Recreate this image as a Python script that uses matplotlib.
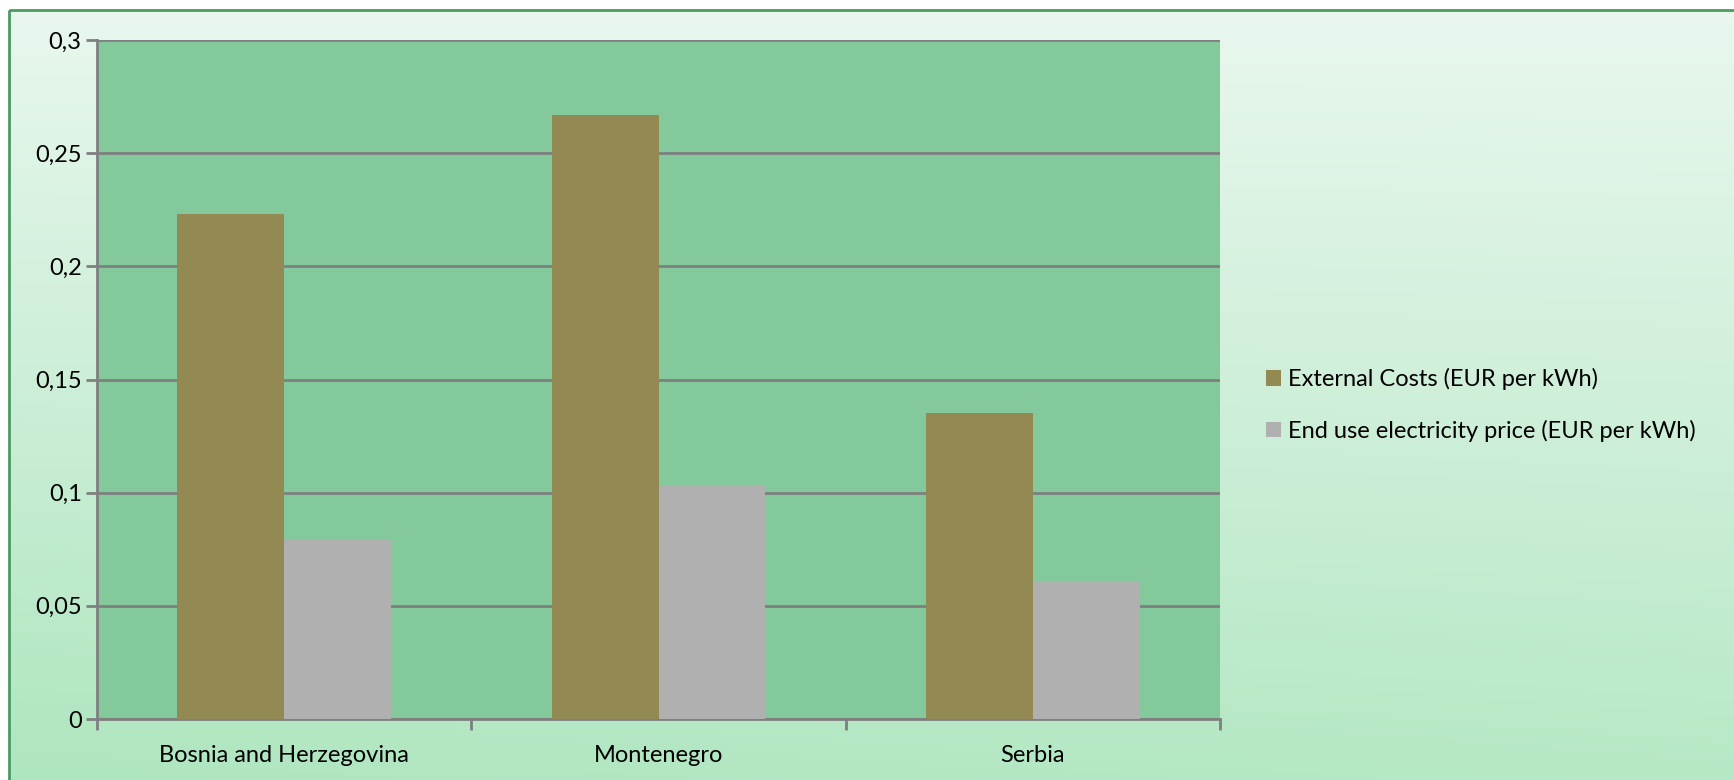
import numpy as np
import matplotlib
matplotlib.use("Agg")
import matplotlib.pyplot as plt
from matplotlib.patches import Rectangle
from matplotlib.ticker import FixedLocator, FuncFormatter

plt.rcParams['font.family'] = ['Lato', 'DejaVu Sans']

countries = ['Bosnia and Herzegovina', 'Montenegro', 'Serbia']
external_costs = [0.223, 0.267, 0.135]
end_use_price = [0.079, 0.103, 0.061]
series_names = ['External Costs (EUR per kWh)', 'End use electricity price (EUR per kWh)']
yticks = [0, 0.05, 0.1, 0.15, 0.2, 0.25, 0.3]

W, H = 1734, 780
fig = plt.figure(figsize=(W / 100, H / 100), dpi=100)
fig.patch.set_facecolor('white')

# gradient background with green border
bg = fig.add_axes([0, 0, 1, 1], zorder=0)
bg.set_xlim(0, W)
bg.set_ylim(H, 0)
bg.axis('off')
yy, xx = np.mgrid[0:1:200j, 0:1:200j]
t = np.clip(0.85 * yy + 0.15 * (1 - xx) * yy, 0, 1)
c0 = np.array([0xe9, 0xf7, 0xee]) / 255
c1 = np.array([0xae, 0xe6, 0xbf]) / 255
img = c0[None, None, :] * (1 - t[..., None]) + c1[None, None, :] * t[..., None]
bg.imshow(img, extent=[9, W, H, 10], aspect='auto', zorder=0)
bg.add_patch(Rectangle((9, 10), W, H, fill=False, edgecolor='#4a9a62', lw=2, zorder=1))

ax = fig.add_axes([97 / W, 1 - 719 / H, (1220 - 97) / W, (719 - 40) / H], zorder=2)
ax.set_facecolor('#83c99b')

x = np.arange(len(countries))
bw = 1 / 3.5
ax.bar(x - bw / 2, external_costs, bw, color='#938953', label=series_names[0], zorder=3)
ax.bar(x + bw / 2, end_use_price, bw, color='#b0b0b0', label=series_names[1], zorder=3)

ax.set_xlim(-0.5, 2.5)
ax.set_ylim(0, 0.3)
ax.yaxis.set_major_locator(FixedLocator(yticks))
ax.yaxis.set_major_formatter(FuncFormatter(lambda v, p: ('%g' % v).replace('.', ',')))
ax.grid(axis='y', color='#7f7f7f', lw=2, zorder=1)
ax.set_axisbelow(True)

ax.set_xticks(x)
ax.set_xticklabels(countries)
ax.set_xticks([-0.5, 0.5, 1.5, 2.5], minor=True)
ax.tick_params(axis='x', which='major', length=0, labelsize=17, pad=19)
ax.tick_params(axis='x', which='minor', length=8, width=2, color='#7f7f7f', direction='out')
ax.tick_params(axis='y', length=8, width=2, color='#7f7f7f', labelsize=17, pad=3)

for s in ['top', 'right']:
    ax.spines[s].set_visible(False)
for s in ['left', 'bottom']:
    ax.spines[s].set_color('#7f7f7f')
    ax.spines[s].set_linewidth(2)

fig.legend(loc='center left', bbox_to_anchor=(1266 / W, 1 - 405 / H), frameon=False,
           fontsize=17, handlelength=0.65, handleheight=0.65, handletextpad=0.3,
           labelspacing=1.25, borderpad=0, borderaxespad=0)

fig.savefig('out.png', dpi=100)
